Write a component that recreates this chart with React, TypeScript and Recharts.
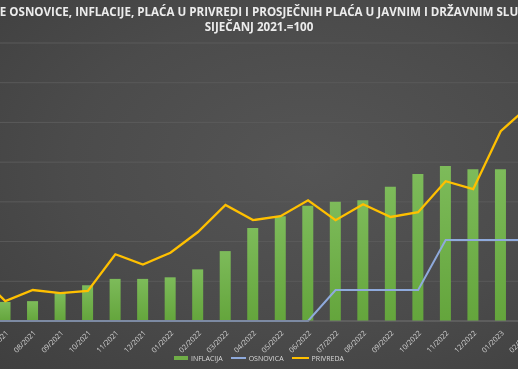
import React from 'react';
import { ComposedChart, Bar, Line, XAxis, YAxis, CartesianGrid, Legend } from 'recharts';

// index, siječanj 2021. = 100 (visible window of a wider chart)
const months = [
  '06/2021', '07/2021', '08/2021', '09/2021', '10/2021', '11/2021', '12/2021',
  '01/2022', '02/2022', '03/2022', '04/2022', '05/2022', '06/2022', '07/2022',
  '08/2022', '09/2022', '10/2022', '11/2022', '12/2022', '01/2023', '02/2023',
];
const inflacija = [
  102.2, 102.4, 102.5, 103.5, 104.5, 105.3, 105.3,
  105.5, 106.5, 108.8, 111.7, 113.2, 114.5, 115.0,
  115.2, 116.9, 118.5, 119.5, 119.1, 119.1, 119.8,
];
const osnovica = [
  100, 100, 100, 100, 100, 100, 100,
  100, 100, 100, 100, 100, 100, 103.9,
  103.9, 103.9, 103.9, 110.2, 110.2, 110.2, 110.2,
];
const privreda = [
  105.9, 102.5, 103.9, 103.5, 103.8, 108.4, 107.1,
  108.6, 111.2, 114.6, 112.7, 113.2, 115.2, 112.7,
  114.7, 113.1, 113.7, 117.6, 116.6, 123.9, 127.0,
];
const yTicks = [100, 105, 110, 115, 120, 125, 130, 135];

const titleLine1 = 'E OSNOVICE, INFLACIJE, PLAĆA U PRIVREDI I PROSJEČNIH PLAĆA U JAVNIM I DRŽAVNIM SLU';
const titleLine2 = 'SIJEČANJ 2021.=100';

const data = months.map((m, i) => ({
  month: m,
  INFLACIJA: inflacija[i],
  OSNOVICA: osnovica[i],
  PRIVREDA: privreda[i],
}));

const font = '"Open Sans", "DejaVu Sans", sans-serif';

function LegendContent() {
  const item = (swatch: React.ReactNode, label: string) => (
    <div style={{ display: 'flex', alignItems: 'center', gap: 3 }}>
      {swatch}
      <span>{label}</span>
    </div>
  );
  return (
    <div
      style={{
        display: 'flex',
        justifyContent: 'center',
        alignItems: 'center',
        gap: 8,
        height: 22,
        fontFamily: font,
        fontSize: 7,
        color: '#d9d9d9',
      }}
    >
      {item(<div style={{ width: 14, height: 4, background: '#70ad47' }} />, 'INFLACIJA')}
      {item(<div style={{ width: 15, height: 2, background: '#8faadc' }} />, 'OSNOVICA')}
      {item(<div style={{ width: 17, height: 2, background: '#ffc000' }} />, 'PRIVREDA')}
    </div>
  );
}

export default function App() {
  return (
    <div
      style={{
        position: 'fixed',
        left: 0,
        top: 0,
        width: 518,
        height: 369,
        overflow: 'hidden',
        background: 'radial-gradient(ellipse at 60% 45%, #555555 0%, #4b4b4b 55%, #3f3f3f 100%)',
      }}
    >
      <div
        style={{
          position: 'absolute',
          left: -100,
          width: 718,
          top: 4,
          textAlign: 'center',
          fontFamily: font,
          fontWeight: 700,
          fontSize: 11.6,
          lineHeight: '15px',
          color: '#ececec',
          whiteSpace: 'nowrap',
        }}
      >
        <div>{titleLine1}</div>
        <div>{titleLine2}</div>
      </div>
      <div style={{ position: 'absolute', left: -36, top: 0 }}>
        <ComposedChart
          width={578}
          height={369}
          data={data}
          margin={{ top: 43, right: 0, bottom: 0, left: 0 }}
          barCategoryGap={0}
        >
          <defs>
            <linearGradient id="greenFill" x1="0" y1="0" x2="0" y2="1">
              <stop offset="0%" stopColor="#7dbb5a" />
              <stop offset="100%" stopColor="#64a53c" />
            </linearGradient>
          </defs>
          <CartesianGrid vertical={false} stroke="#5a5a5a" strokeWidth={1} />
          <YAxis hide domain={[100, 135]} ticks={yTicks} />
          <XAxis
            dataKey="month"
            height={26}
            interval={0}
            tickLine={false}
            axisLine={{ stroke: '#6b6b6b' }}
            tick={{ angle: -45, textAnchor: 'end', fontSize: 7.3, fill: '#d0d0d0', fontFamily: font }}
            tickMargin={3}
          />
          <Legend verticalAlign="bottom" wrapperStyle={{ left: 36, width: 518, bottom: 0 }} content={<LegendContent />} />
          <Bar dataKey="INFLACIJA" barSize={11} fill="url(#greenFill)" isAnimationActive={false} />
          <Line dataKey="OSNOVICA" type="linear" stroke="#8faadc" strokeWidth={2} dot={false} isAnimationActive={false} />
          <Line dataKey="PRIVREDA" type="linear" stroke="#ffc000" strokeWidth={2.3} dot={false} isAnimationActive={false} />
        </ComposedChart>
      </div>
    </div>
  );
}
